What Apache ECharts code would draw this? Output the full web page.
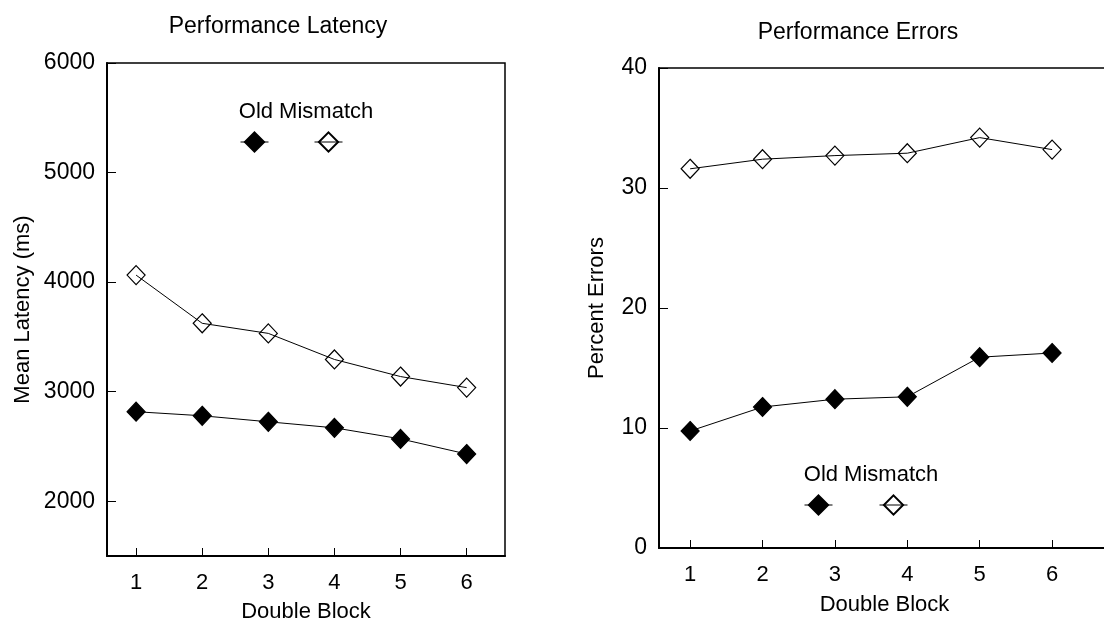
<!DOCTYPE html>
<html>
<head>
<meta charset="utf-8">
<script src="https://cdn.jsdelivr.net/npm/echarts@6/dist/echarts.min.js"></script>
<style>
  html, body { margin: 0; padding: 0; background: #fff; }
  #chart { width: 1104px; height: 625px; }
</style>
</head>
<body>
<div id="chart"></div>
<script>
// x categories (double blocks)
const blocks = [1, 2, 3, 4, 5, 6]
// latency in ms
const latencyOld = [2817, 2780, 2725, 2670, 2569, 2431]
const latencyMismatch = [4064, 3624, 3532, 3294, 3138, 3037]
// percent errors
const errorsOld = [9.75, 11.75, 12.4, 12.6, 15.9, 16.25]
const errorsMismatch = [31.6, 32.4, 32.7, 32.9, 34.2, 33.2]
// tick labels
const latencyTicks = [2000, 3000, 4000, 5000, 6000]
const errorTicks = [0, 10, 20, 30, 40]

const font = 'Liberation Sans'
const ink = '#000'

const pairs = (ys) => blocks.map((b, i) => [b, ys[i]])

const xAxisBase = (min, max) => ({
	type: 'value',
	min: min,
	max: max,
	name: 'Double Block',
	nameLocation: 'middle',
	nameGap: 45,
	nameTextStyle: { fontFamily: font, fontSize: 22, color: ink },
	axisLine: { lineStyle: { color: '#000', width: 2 } },
	axisTick: { inside: true, length: 8, customValues: blocks, lineStyle: { color: '#000', width: 1 } },
	axisLabel: { margin: 16, fontFamily: font, fontSize: 22, color: ink, customValues: blocks },
	splitLine: { show: false }
})

const yAxisBase = (name, min, max, interval, ticks, gap) => ({
	type: 'value',
	min: min,
	max: max,
	interval: interval,
	name: name,
	nameLocation: 'middle',
	nameGap: gap,
	nameTextStyle: { fontFamily: font, fontSize: 22, color: ink },
	axisLine: { show: true, lineStyle: { color: '#000', width: 2 } },
	axisTick: { show: true, inside: true, length: 9, customValues: ticks, lineStyle: { color: '#000', width: 1 } },
	axisLabel: { margin: 12, fontFamily: font, fontSize: 23, color: ink, customValues: ticks,
		formatter: (v) => String(v) },
	splitLine: { show: false }
})

const seriesBase = (name, filled, xi, data) => ({
	name: name,
	type: 'line',
	xAxisIndex: xi,
	yAxisIndex: xi,
	data: data,
	symbol: 'diamond',
	symbolSize: [18, 19],
	showAllSymbol: true,
	lineStyle: { color: '#000', width: 1 },
	itemStyle: {
		color: filled ? '#000' : 'rgba(255,255,255,0)',
		borderColor: '#000',
		borderWidth: 1.2
	},
	emphasis: { disabled: true },
	animation: false
})

const legendItem = (name, cx, cy) => ({
	data: [name],
	left: cx - 14,
	top: cy - 12,
	itemWidth: 28,
	itemHeight: 24,
	padding: 0,
	formatter: () => '',
	selectedMode: false,
	lineStyle: { color: '#000', width: 1 }
})

const chart = echarts.init(document.getElementById('chart'), null, { renderer: 'canvas' })

chart.setOption({
	backgroundColor: '#fff',
	animation: false,
	title: [
		{ text: 'Performance Latency', left: 278, top: 15, textAlign: 'center', padding: 0,
			textStyle: { fontFamily: font, fontSize: 23, fontWeight: 'normal', color: ink } },
		{ text: 'Performance Errors', left: 858, top: 21, textAlign: 'center', padding: 0,
			textStyle: { fontFamily: font, fontSize: 23, fontWeight: 'normal', color: ink } }
	],
	grid: [
		{ left: 107, top: 63, width: 398, height: 493, outerBoundsMode: 'none', containLabel: false,
			show: true, borderColor: '#000', borderWidth: 1.5, backgroundColor: '#fff' },
		{ left: 659, top: 68, width: 451, height: 480, outerBoundsMode: 'none', containLabel: false,
			show: true, borderColor: '#000', borderWidth: 1.5, backgroundColor: '#fff' }
	],
	xAxis: [
		Object.assign(xAxisBase(0.56, 6.58), { gridIndex: 0, nameGap: 45 }),
		Object.assign(xAxisBase(0.57, 6.8), { gridIndex: 1, nameGap: 46 })
	],
	yAxis: [
		Object.assign(yAxisBase('Mean Latency (ms)', 1500, 6000, 500, latencyTicks, 73), { gridIndex: 0 }),
		Object.assign(yAxisBase('Percent Errors', 0, 40, 10, errorTicks, 51), { gridIndex: 1 })
	],
	legend: [
		legendItem('Old', 254, 142),
		legendItem('Mismatch', 328, 142),
		legendItem('Old', 818, 505),
		legendItem('Mismatch', 893, 505)
	],
	graphic: [
		{ type: 'text', x: 306, y: 112, style: { text: 'Old Mismatch', x: 0, y: 0, align: 'center', verticalAlign: 'middle', font: '22px "Liberation Sans"', fill: ink } },
		{ type: 'text', x: 871, y: 475, style: { text: 'Old Mismatch', x: 0, y: 0, align: 'center', verticalAlign: 'middle', font: '22px "Liberation Sans"', fill: ink } }
	],
	series: [
		seriesBase('Old', true, 0, pairs(latencyOld)),
		seriesBase('Mismatch', false, 0, pairs(latencyMismatch)),
		seriesBase('Old', true, 1, pairs(errorsOld)),
		seriesBase('Mismatch', false, 1, pairs(errorsMismatch))
	]
})
</script>
</body>
</html>
